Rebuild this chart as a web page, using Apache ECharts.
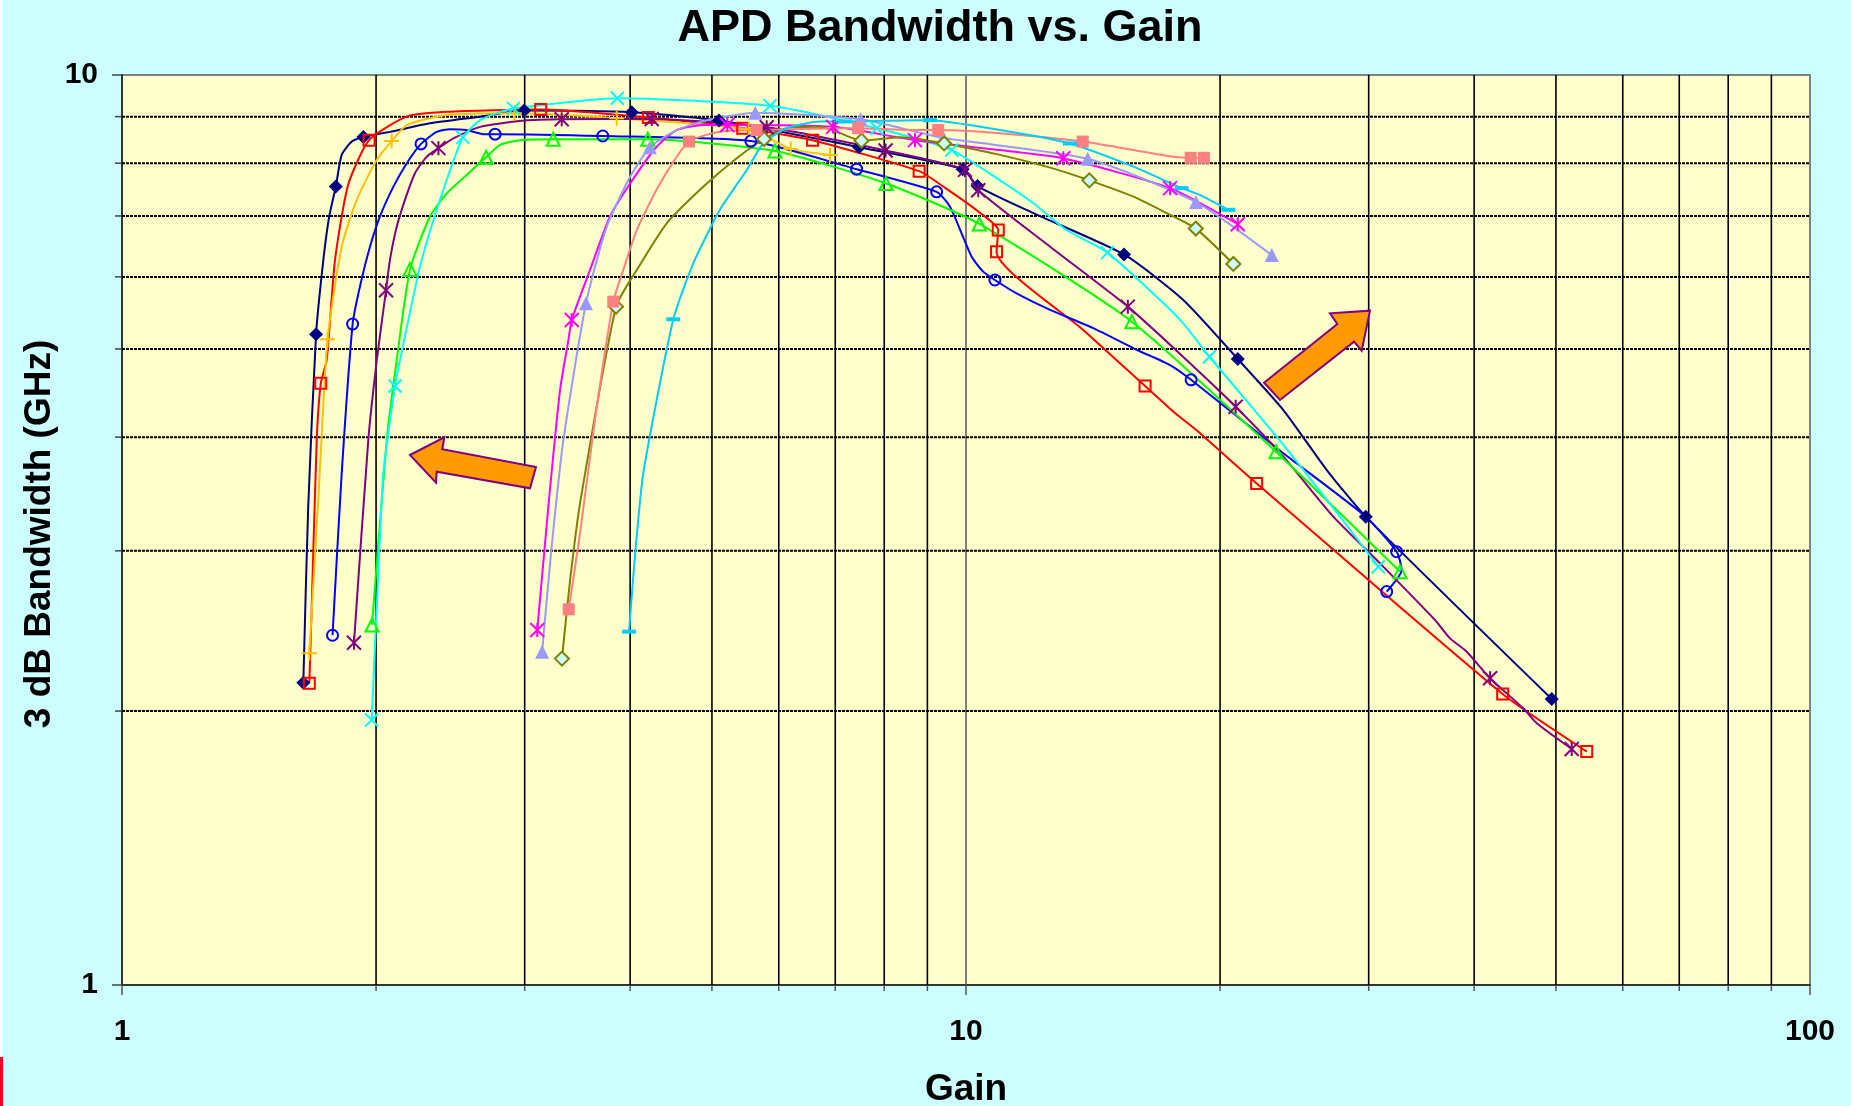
<!DOCTYPE html>
<html><head><meta charset="utf-8">
<script src="https://cdn.jsdelivr.net/npm/echarts/dist/echarts.min.js"></script>
<style>html,body{margin:0;padding:0;background:#CCFFFF;overflow:hidden}#chart{width:1851px;height:1106px}</style>
</head><body><div id="chart"></div>
<script>
// ---------- tick values ----------
const xTickLabels = [1, 10, 100];
const yTickLabels = [1, 10];
const minorX = [2,3,4,5,6,7,8,9,20,30,40,50,60,70,80,90];
const minorY = [2,3,4,5,6,7,8,9];

// ---------- series data: [gain, bandwidth GHz] ----------
const navyLine = [[1.640,2.149],[1.662,3.354],[1.698,5.189],[1.732,6.26],[1.760,6.99],[1.792,7.540],[1.821,8.17],[1.872,8.45],[1.932,8.55],[2.077,8.66],[2.317,8.85],[2.657,9.0],[2.996,9.14],[4.018,9.10],[5.097,8.91],[7.47,8.33],[9.91,7.88],[10.32,7.55],[12.02,7.05],[15.39,6.35],[18.09,5.66],[20.99,4.874],[23.77,4.284],[26.76,3.68],[29.76,3.271],[49.43,2.062]];
const navyMarks = [[1.640,2.149],[1.698,5.189],[1.792,7.540],[1.932,8.55],[2.996,9.14],[4.018,9.10],[5.097,8.91],[7.47,8.33],[9.91,7.88],[10.32,7.55],[15.39,6.35],[20.99,4.874],[29.76,3.271],[49.43,2.062]];

const redLine = [[1.667,2.146],[1.678,2.604],[1.701,3.97],[1.720,4.584],[1.748,4.862],[1.788,6.26],[1.853,7.57],[1.962,8.48],[2.174,9.0],[2.425,9.11],[3.134,9.165],[4.204,8.98],[5.438,8.74],[6.58,8.48],[8.80,7.84],[9.40,7.54],[10.34,7.08],[10.92,6.755],[10.87,6.395],[13.77,5.245],[16.30,4.553],[17.61,4.266],[18.76,4.07],[22.10,3.558],[43.24,2.088],[54.38,1.805]];
const redMarks = [[1.667,2.146],[1.720,4.584],[1.962,8.48],[3.134,9.165],[4.204,8.98],[5.438,8.74],[6.58,8.48],[8.80,7.84],[10.92,6.755],[10.87,6.395],[16.30,4.553],[22.10,3.558],[43.24,2.088],[54.38,1.805]];

const orangeLine = [[1.667,2.315],[1.709,3.44],[1.752,5.124],[1.821,6.475],[1.897,7.29],[2.004,8.07],[2.087,8.46],[2.174,8.81],[2.425,9.04],[2.917,9.08],[3.856,8.965],[5.528,8.715],[6.198,8.295],[6.90,8.17]];
const orangeMarks = [[1.667,2.315],[1.752,5.124],[2.087,8.46],[2.917,9.08],[3.856,8.965],[5.528,8.715],[6.198,8.295],[6.90,8.17]];

const blueLine = [[1.776,2.423],[1.821,3.65],[1.876,5.325],[1.914,5.855],[1.967,6.475],[2.021,6.99],[2.097,7.54],[2.174,7.995],[2.261,8.40],[2.360,8.66],[2.447,8.72],[2.56,8.70],[2.68,8.61],[2.767,8.61],[3.712,8.57],[5.56,8.46],[7.42,7.88],[9.23,7.44],[9.57,7.17],[9.88,6.70],[10.16,6.31],[10.48,6.08],[10.82,5.953],[11.48,5.755],[12.58,5.52],[14.15,5.27],[15.93,4.99],[17.45,4.80],[18.48,4.624],[23.77,3.84],[29.76,3.271],[32.38,2.993],[32.82,2.858],[31.51,2.706]];
const blueMarks = [[1.776,2.423],[1.876,5.325],[2.261,8.40],[2.767,8.61],[3.712,8.57],[5.56,8.46],[7.42,7.88],[9.23,7.44],[10.82,5.953],[18.48,4.624],[32.38,2.993],[31.51,2.706]];

const purpleLine = [[1.883,2.377],[1.958,3.97],[2.004,4.86],[2.055,5.80],[2.077,6.26],[2.116,6.81],[2.164,7.29],[2.224,7.80],[2.296,8.13],[2.371,8.31],[2.470,8.52],[2.657,8.77],[2.996,8.91],[3.319,8.94],[4.243,8.945],[5.806,8.76],[8.03,8.26],[9.97,7.865],[10.34,7.47],[12.58,6.475],[15.55,5.565],[18.09,4.90],[20.87,4.32],[23.77,3.807],[27.24,3.271],[30.94,2.906],[35.95,2.518],[37.46,2.404],[39.20,2.324],[41.78,2.173],[45.74,2.014],[47.45,1.939],[52.20,1.817]];
const purpleMarks = [[1.883,2.377],[2.055,5.80],[2.371,8.31],[3.319,8.94],[4.243,8.945],[5.806,8.76],[8.03,8.26],[9.97,7.865],[10.34,7.47],[15.55,5.565],[20.87,4.32],[41.78,2.173],[52.20,1.817]];

const greenLine = [[1.978,2.487],[2.059,3.97],[2.116,4.862],[2.194,6.115],[2.317,6.99],[2.425,7.41],[2.562,7.77],[2.700,8.12],[2.805,8.38],[2.961,8.48],[3.243,8.50],[4.197,8.50],[5.937,8.25],[8.04,7.60],[10.37,6.86],[15.72,5.357],[23.30,3.855],[32.68,2.846]];
const greenMarks = [[1.978,2.487],[2.194,6.115],[2.700,8.12],[3.243,8.50],[4.197,8.50],[5.937,8.25],[8.04,7.60],[10.37,6.86],[15.72,5.357],[23.30,3.855],[32.68,2.846]];

const cyanLine = [[1.976,1.955],[2.004,2.604],[2.040,3.65],[2.106,4.553],[2.135,4.862],[2.255,6.16],[2.381,7.29],[2.534,8.54],[2.657,8.92],[2.805,9.11],[2.909,9.19],[3.863,9.43],[5.859,9.25],[7.84,8.74],[9.618,8.27],[10.97,7.66],[12.02,7.23],[13.16,6.755],[14.71,6.38],[16.98,5.66],[18.09,5.335],[19.43,4.902],[23.34,4.005],[27.74,3.271],[30.80,2.882]];
const cyanMarks = [[1.976,1.955],[2.106,4.553],[2.534,8.54],[2.909,9.19],[3.863,9.43],[5.859,9.25],[7.84,8.74],[9.618,8.27],[14.71,6.38],[19.43,4.902],[30.80,2.882]];

const magentaLine = [[3.105,2.455],[3.20,3.354],[3.304,4.507],[3.380,5.114],[3.411,5.38],[3.585,6.105],[3.786,6.99],[4.0,7.60],[4.300,8.34],[4.542,8.70],[4.886,8.81],[5.214,8.81],[6.96,8.77],[8.70,8.48],[10.97,8.27],[13.04,8.10],[17.45,7.51],[20.99,6.855]];
const magentaMarks = [[3.105,2.455],[3.411,5.38],[5.214,8.81],[6.96,8.77],[8.70,8.48],[13.04,8.10],[17.45,7.51],[20.99,6.855]];

const lavenderLine = [[3.146,2.324],[3.229,3.031],[3.334,3.97],[3.546,5.613],[3.752,6.81],[4.0,7.73],[4.222,8.33],[4.542,8.70],[4.93,8.92],[5.628,9.09],[7.50,8.94],[9.40,8.53],[13.94,8.09],[18.73,7.25],[23.03,6.34]];
const lavenderMarks = [[3.146,2.324],[3.546,5.613],[4.222,8.33],[5.628,9.09],[7.50,8.94],[9.40,8.53],[13.94,8.09],[18.73,7.25],[23.03,6.34]];

const oliveLine = [[3.321,2.284],[3.396,2.787],[3.489,3.383],[3.849,5.565],[4.073,6.105],[4.42,6.87],[4.886,7.54],[5.35,8.10],[5.763,8.505],[6.13,8.74],[6.71,8.77],[7.35,8.52],[7.52,8.47],[8.36,8.54],[9.42,8.41],[10.97,8.17],[12.58,7.91],[14.0,7.66],[15.79,7.35],[17.29,7.05],[18.72,6.78],[20.74,6.20]];
const oliveMarks = [[3.321,2.284],[3.849,5.565],[5.763,8.505],[7.52,8.47],[9.42,8.41],[14.0,7.66],[18.72,6.78],[20.74,6.20]];

const salmonLine = [[3.383,2.587],[3.489,3.136],[3.634,4.178],[3.820,5.636],[3.926,6.105],[4.073,6.755],[4.34,7.60],[4.697,8.45],[5.11,8.66],[5.649,8.70],[7.45,8.74],[8.82,8.70],[9.27,8.70],[10.97,8.63],[13.75,8.45],[15.79,8.27],[17.61,8.13],[18.46,8.11],[19.14,8.11]];
const salmonMarks = [[3.383,2.587],[3.820,5.636],[4.697,8.45],[5.649,8.70],[7.45,8.74],[9.27,8.70],[13.75,8.45],[18.46,8.11],[19.14,8.11]];

const skyLine = [[3.988,2.445],[4.054,2.97],[4.148,3.66],[4.50,5.39],[4.753,6.21],[5.11,7.11],[5.50,7.865],[5.75,8.41],[6.13,8.74],[6.71,8.89],[7.19,8.89],[8.82,8.92],[9.065,8.92],[10.97,8.70],[13.28,8.41],[15.79,7.93],[18.01,7.51],[18.94,7.38],[20.46,7.11]];
const skyMarks = [[3.988,2.445],[4.50,5.39],[7.19,8.89],[9.065,8.92],[13.28,8.41],[18.01,7.51],[20.46,7.11]];

// ---------- styles ----------
const PLUS = 'path://M10,0 L10,20 M0,10 L20,10';
const CROSS = 'path://M0,0 L20,20 M20,0 L0,20';
const STAR = 'path://M0,0 L20,20 M20,0 L0,20 M10,0 L10,20';
const NONE = 'rgba(0,0,0,0)';
const defs = [
  {line: navyLine, marks: navyMarks, color: '#000080', symbol: 'diamond', size: 14, fill: '#000080', bw: 0},
  {line: redLine, marks: redMarks, color: '#FF0000', symbol: 'rect', size: 11, fill: NONE, bw: 2},
  {line: orangeLine, marks: orangeMarks, color: '#FFC000', symbol: PLUS, size: 15, fill: NONE, bw: 2},
  {line: blueLine, marks: blueMarks, color: '#0000FF', symbol: 'circle', size: 11, fill: NONE, bw: 2},
  {line: purpleLine, marks: purpleMarks, color: '#800080', symbol: STAR, size: 14, fill: NONE, bw: 2},
  {line: greenLine, marks: greenMarks, color: '#00FF00', symbol: 'triangle', size: 13, fill: NONE, bw: 2},
  {line: cyanLine, marks: cyanMarks, color: '#00FFFF', symbol: CROSS, size: 13, fill: NONE, bw: 2},
  {line: magentaLine, marks: magentaMarks, color: '#FF00FF', symbol: STAR, size: 14, fill: NONE, bw: 2},
  {line: lavenderLine, marks: lavenderMarks, color: '#9999FF', symbol: 'triangle', size: 14, fill: '#9999FF', bw: 0},
  {line: oliveLine, marks: oliveMarks, color: '#808000', symbol: 'diamond', size: 14, fill: '#CCFFFF', bw: 2},
  {line: salmonLine, marks: salmonMarks, color: '#FF8080', symbol: 'rect', size: 12, fill: '#FF8080', bw: 0},
  {line: skyLine, marks: skyMarks, color: '#00CCFF', symbol: 'rect', size: [14, 4], fill: '#00CCFF', bw: 0}
];

const FONT = '"Liberation Sans", Arial, sans-serif';

const series = [];
// minor vertical grid lines + x minor ticks
series.push({
  type: 'custom', coordinateSystem: 'cartesian2d', silent: true, z: 1, clip: false,
  data: minorX.map(v => [v, 1]),
  renderItem: (params, api) => {
    const v = api.value(0);
    const b = api.coord([v, 1]);
    const t = api.coord([v, 10]);
    return {type: 'group', children: [
      {type: 'line', shape: {x1: b[0], y1: b[1], x2: t[0], y2: t[1]}, style: {stroke: '#000', lineWidth: 1.6}},
      {type: 'line', shape: {x1: b[0], y1: b[1], x2: b[0], y2: b[1] + 6}, style: {stroke: '#555', lineWidth: 1.5}}
    ]};
  }
});
// minor horizontal dotted grid lines + y minor ticks
series.push({
  type: 'custom', coordinateSystem: 'cartesian2d', silent: true, z: 1, clip: false,
  data: minorY.map(v => [1, v]),
  renderItem: (params, api) => {
    const v = api.value(1);
    const l = api.coord([1, v]);
    const r = api.coord([100, v]);
    return {type: 'group', children: [
      {type: 'line', shape: {x1: l[0], y1: l[1], x2: r[0], y2: r[1]}, style: {stroke: '#000', lineWidth: 2, lineDash: [3, 1]}},
      {type: 'line', shape: {x1: l[0] - 7, y1: l[1], x2: l[0], y2: l[1]}, style: {stroke: '#444', lineWidth: 1.5}}
    ]};
  }
});
defs.forEach(d => {
  series.push({
    type: 'line', data: d.line, showSymbol: false, smooth: 0.2, silent: true, z: 3,
    lineStyle: {color: d.color, width: 2}, itemStyle: {color: d.color}
  });
});
defs.forEach(d => {
  series.push({
    type: 'scatter', data: d.marks, symbol: d.symbol, symbolSize: d.size, silent: true, z: 4,
    itemStyle: {color: d.fill, borderColor: d.color, borderWidth: d.bw, opacity: 1}
  });
});

const chart = echarts.init(document.getElementById('chart'), null, {renderer: 'canvas'});
chart.setOption({
  animation: false,
  backgroundColor: '#CCFFFF',
  grid: {left: 122, top: 75, right: 41, bottom: 121, show: true, backgroundColor: '#FFFFCC', borderColor: '#808080', borderWidth: 2, containLabel: false, outerBoundsMode: 'none'},
  xAxis: {
    type: 'log', logBase: 10, min: 1, max: 100,
    axisLine: {show: true, lineStyle: {color: '#333', width: 2}},
    axisTick: {show: true, length: 10, lineStyle: {color: '#555', width: 1.5}},
    axisLabel: {show: true, margin: 32, fontSize: 30, fontWeight: 'bold', color: '#000', fontFamily: FONT,
      formatter: v => { const r = Math.round(v); return xTickLabels.indexOf(r) >= 0 ? String(r) : ''; }},
    splitLine: {show: true, lineStyle: {color: '#808080', width: 2}},
    minorTick: {show: false}, minorSplitLine: {show: false}
  },
  yAxis: {
    type: 'log', logBase: 10, min: 1, max: 10,
    axisLine: {show: true, lineStyle: {color: '#333', width: 2}},
    axisTick: {show: true, length: 10, lineStyle: {color: '#444', width: 1.5}},
    axisLabel: {show: true, margin: 24, fontSize: 30, fontWeight: 'bold', color: '#000', fontFamily: FONT,
      formatter: v => { const r = Math.round(v); return yTickLabels.indexOf(r) >= 0 ? String(r) : ''; }},
    splitLine: {show: true, lineStyle: {color: '#808080', width: 2}},
    minorTick: {show: false}, minorSplitLine: {show: false}
  },
  graphic: [
    {type: 'rect', left: 0, top: 0, shape: {width: 2, height: 1106}, style: {fill: '#FFFFFF'}, z: 100},
    {type: 'rect', left: 0, top: 1057, shape: {width: 3, height: 49}, style: {fill: '#FF0022'}, z: 101},
    {type: 'text', x: 940, y: 29, z: 100, style: {text: 'APD Bandwidth vs. Gain', font: 'bold 45px ' + FONT, fill: '#000', textAlign: 'center', textVerticalAlign: 'middle'}},
    {type: 'text', x: 40, y: 534, rotation: Math.PI / 2, z: 100, style: {text: '3 dB Bandwidth (GHz)', font: 'bold 37px ' + FONT, fill: '#000', textAlign: 'center', textVerticalAlign: 'middle'}},
    {type: 'text', x: 966, y: 1090, z: 100, style: {text: 'Gain', font: 'bold 37px ' + FONT, fill: '#000', textAlign: 'center', textVerticalAlign: 'middle'}},
    {type: 'polygon', z: 50, shape: {points: [[410,455],[444.3,437.3],[442.3,449.3],[536,467],[530,488.3],[436.7,471.7],[436,482.7]]}, style: {fill: '#FF9900', stroke: '#800080', lineWidth: 2}},
    {type: 'polygon', z: 50, shape: {points: [[1264,382.7],[1337.3,324],[1330,313.3],[1370,310.7],[1361.7,350.7],[1354,341.7],[1280,400]]}, style: {fill: '#FF9900', stroke: '#800080', lineWidth: 2}}
  ],
  series: series
});
</script></body></html>
